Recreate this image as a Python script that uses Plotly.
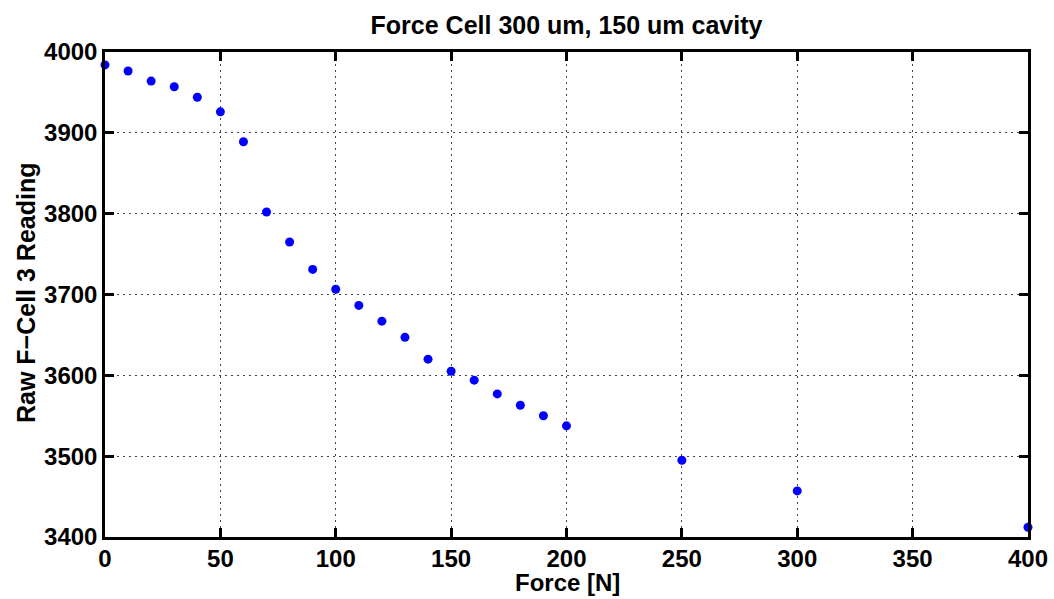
import plotly.graph_objects as go

# Applied force (N) and the raw reading of force cell 3
force_n = [0, 10, 20, 30, 40, 50, 60, 70, 80, 90, 100, 110, 120, 130,
           140, 150, 160, 170, 180, 190, 200, 250, 300, 400]
raw_reading = [3984, 3976.5, 3964, 3957, 3944, 3926, 3889, 3802, 3765, 3731,
               3706.5, 3686.5, 3667, 3647, 3620, 3605, 3594, 3577, 3563, 3550,
               3537.5, 3495, 3457, 3412]

x_ticks = [0, 50, 100, 150, 200, 250, 300, 350, 400]
y_ticks = [3400, 3500, 3600, 3700, 3800, 3900, 4000]

FONT = "Liberation Sans, Arial, Helvetica, sans-serif"
TITLE_FS = 25
LABEL_FS = 24
TICK_FS = 24

# plot-area geometry in pixels
W, H = 1054, 599
L, R, T, B = 105, 26, 52, 62
PW, PH = W - L - R, H - T - B

fig = go.Figure(
    go.Scatter(
        x=force_n,
        y=raw_reading,
        mode="markers",
        marker=dict(color="#0000ff", size=9, line=dict(width=0)),
        cliponaxis=False,
        showlegend=False,
    )
)

axis_common = dict(
    showline=True,
    linecolor="black",
    linewidth=2.5,
    mirror="ticks",
    ticks="inside",
    ticklen=9,
    tickwidth=2.5,
    tickcolor="black",
    showgrid=True,
    gridcolor="#444444",
    gridwidth=1,
    griddash="2px,4px",
    zeroline=False,
    automargin=False,
    tickfont=dict(family=FONT, size=TICK_FS, color="black", weight="bold"),
)

fig.update_xaxes(range=[0, 400], tickvals=x_ticks, ticklabelstandoff=-2, **axis_common)
fig.update_yaxes(range=[3400, 4000], tickvals=y_ticks, **axis_common)

# axis titles placed as annotations for precise positioning
fig.add_annotation(
    text="<b>Force [N]</b>",
    xref="paper", yref="paper",
    x=(567 - L) / PW, y=(H - B - 582) / PH,
    xanchor="center", yanchor="middle",
    showarrow=False,
    font=dict(family=FONT, size=LABEL_FS, color="black"),
)
fig.add_annotation(
    text="<b>Raw F\u2212Cell 3 Reading</b>",
    xref="paper", yref="paper",
    x=(26 - L) / PW, y=(H - B - 293) / PH,
    xanchor="center", yanchor="middle",
    textangle=-90,
    showarrow=False,
    font=dict(family=FONT, size=25, color="black"),
)

fig.update_layout(
    width=W,
    height=H,
    margin=dict(l=L, r=R, t=T, b=B),
    paper_bgcolor="white",
    plot_bgcolor="white",
    title=dict(
        text="<b>Force Cell 300 um, 150 um cavity</b>",
        font=dict(family=FONT, size=TITLE_FS, color="black"),
        x=0.5 * (L + W - R) / W,
        xanchor="center",
        y=1 - 25 / H,
        yanchor="middle",
    ),
)

fig.write_html("out.html")
